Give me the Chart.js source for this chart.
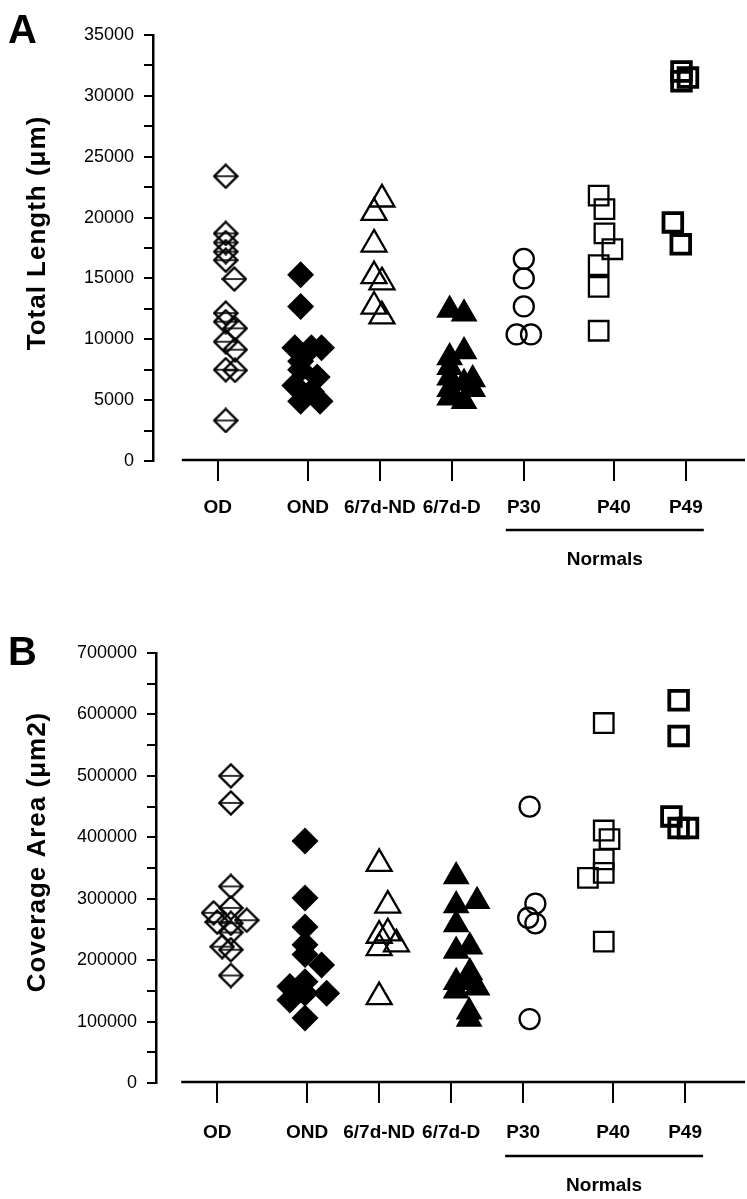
<!DOCTYPE html>
<html>
<head>
<meta charset="utf-8">
<title>Total length and coverage area</title>
<script src="https://cdn.jsdelivr.net/npm/chart.js"></script>
<style>
  html, body { margin: 0; padding: 0; background: #fff; }
  canvas { display: block; }
</style>
</head>
<body>
<canvas id="chartA" width="747" height="600"></canvas>
<canvas id="chartB" width="747" height="599"></canvas>
<script>
const groupLabels = ["OD", "OND", "6/7d-ND", "6/7d-D", "P30", "P40", "P49"];
const groupPos = [1, 2.25, 3.25, 4.25, 5.25, 6.5, 7.5];

// A - total length (µm), with the sideways offsets of the points
const lenOD = [23400, 18700, 17950, 17200, 16500, 14950, 12150, 11450, 10900, 9800, 9150, 7500, 7450, 3330];
const lenODJit = [0.11, 0.11, 0.11, 0.11, 0.11, 0.23, 0.11, 0.11, 0.24, 0.11, 0.24, 0.11, 0.24, 0.11];
const lenOND = [15300, 12700, 9300, 9300, 9300, 8200, 7500, 6900, 6200, 5700, 4900, 4900];
const lenONDJit = [-0.1, -0.1, -0.18, 0.05, 0.19, -0.1, -0.1, 0.13, -0.18, 0.05, -0.1, 0.17];
const lenND = [21500, 20400, 17800, 15200, 14700, 12700, 11900];
const lenNDJit = [0.03, -0.08, -0.08, -0.08, 0.03, -0.08, 0.03];
const lenD = [12400, 12100, 9000, 8500, 7700, 6850, 6700, 6400, 5900, 5900, 5200, 4900];
const lenDJit = [-0.03, 0.17, 0.17, -0.03, -0.03, -0.03, 0.29, 0.17, -0.03, 0.29, -0.03, 0.17];
const lenP30 = [16600, 15000, 12700, 10400, 10400];
const lenP30Jit = [0, 0, 0, -0.1, 0.1];
const lenP40 = [21800, 20700, 18700, 17400, 16100, 14300, 10700];
const lenP40Jit = [-0.21, -0.13, -0.13, -0.02, -0.21, -0.21, -0.21];
const lenP49 = [32000, 31500, 31200, 19600, 17800];
const lenP49Jit = [-0.06, 0.03, -0.06, -0.18, -0.07];

// B - coverage area (µm2)
const areaOD = [500000, 456000, 320000, 285000, 277000, 265000, 262000, 260000, 245000, 222000, 217000, 175000];
const areaODJit = [0.19, 0.19, 0.19, 0.19, -0.05, 0.41, 0, 0.19, 0.19, 0.07, 0.19, 0.19];
const areaOND = [394000, 301000, 254000, 225000, 209000, 192000, 165000, 157000, 146000, 146000, 135000, 106000];
const areaONDJit = [-0.03, -0.03, -0.03, -0.03, -0.03, 0.2, -0.03, -0.24, 0.27, -0.03, -0.24, -0.03];
const areaND = [357000, 289000, 244000, 240000, 226000, 220000, 140000];
const areaNDJit = [0, 0.12, 0.12, 0, 0.24, 0, 0];
const areaD = [336000, 296000, 289000, 258000, 222000, 215000, 180000, 166000, 164000, 155000, 150000, 116000, 104000];
const areaDJit = [0.07, 0.36, 0.07, 0.07, 0.26, 0.07, 0.26, 0.26, 0.07, 0.36, 0.07, 0.25, 0.25];
const areaP30 = [450000, 292000, 269000, 260000, 104000];
const areaP30Jit = [0.09, 0.17, 0.07, 0.17, 0.09];
const areaP40 = [586000, 411000, 397000, 364000, 342000, 334000, 230000];
const areaP40Jit = [-0.13, -0.13, -0.05, -0.13, -0.13, -0.35, -0.13];
const areaP49 = [623000, 565000, 434000, 415000, 415000];
const areaP49Jit = [-0.09, -0.09, -0.19, -0.09, 0.04];

const FONT = "'Liberation Sans', Arial, Helvetica, sans-serif";

// open diamond with a bar through it (OD symbol)
function diamondBar() {
    const c = document.createElement("canvas");
    c.width = c.height = 26;
    const g = c.getContext("2d");
    const h = 13, r = 11.5;
    g.strokeStyle = "#000";
    g.lineWidth = 2.3;
    g.beginPath();
    g.moveTo(h, h - r);
    g.lineTo(h + r, h);
    g.lineTo(h, h + r);
    g.lineTo(h - r, h);
    g.closePath();
    g.stroke();
    g.lineWidth = 1.6;
    g.beginPath();
    g.moveTo(h - r + 1, h);
    g.lineTo(h + r - 1, h);
    g.stroke();
    return c;
}

const open = "rgba(0,0,0,0)";
const markers = [
    { pointStyle: diamondBar(), pointRadius: 12 },
    { pointStyle: "rectRot", pointRadius: 13.5, pointBackgroundColor: "#000", pointBorderWidth: 0 },
    { pointStyle: "triangle", pointRadius: 14.4, pointBackgroundColor: open, pointBorderColor: "#000", pointBorderWidth: 2.3 },
    { pointStyle: "triangle", pointRadius: 15.5, pointBackgroundColor: "#000", pointBorderWidth: 0 },
    { pointStyle: "circle", pointRadius: 10, pointBackgroundColor: open, pointBorderColor: "#000", pointBorderWidth: 2.3 },
    { pointStyle: "rect", pointRadius: 13.8, pointBackgroundColor: open, pointBorderColor: "#000", pointBorderWidth: 2.3 },
    { pointStyle: "rect", pointRadius: 13.2, pointBackgroundColor: open, pointBorderColor: "#000", pointBorderWidth: 3.8 }
];

// axis line, "Normals" bracket, panel letter and y title
const decor = {
    id: "decor",
    afterDraw(chart, args, o) {
        const { ctx, chartArea: a } = chart;
        const x = chart.scales.x;
        ctx.save();
        ctx.strokeStyle = "#000";
        ctx.fillStyle = "#000";
        ctx.lineWidth = 2.5;
        ctx.beginPath();
        ctx.moveTo(x.getPixelForValue(0.5), a.bottom - 1);
        ctx.lineTo(a.right - 2, a.bottom - 1);
        ctx.stroke();

        const yl = a.bottom + o.normalsGap;
        ctx.beginPath();
        ctx.moveTo(x.getPixelForValue(5), yl);
        ctx.lineTo(x.getPixelForValue(7.75), yl);
        ctx.stroke();
        ctx.font = "bold 19px " + FONT;
        ctx.textAlign = "center";
        ctx.textBaseline = "middle";
        ctx.fillText("Normals", x.getPixelForValue(6.375), yl + 30);

        ctx.font = "bold 40px " + FONT;
        ctx.textAlign = "left";
        ctx.textBaseline = "alphabetic";
        ctx.fillText(o.letter, 8, o.letterY);

        ctx.translate(38, o.titleY);
        ctx.rotate(-Math.PI / 2);
        ctx.font = "bold 26px " + FONT;
        ctx.letterSpacing = "1px";
        ctx.textAlign = "center";
        ctx.textBaseline = "middle";
        ctx.fillText(o.title, 0, 0);
        ctx.restore();
    }
};

function makePanel(id, p) {
    const canvas = document.getElementById(id);
    const datasets = p.values.map((vals, g) => Object.assign({
        label: groupLabels[g],
        data: vals.map((v, k) => ({ x: groupPos[g] + p.jitter[g][k], y: v }))
    }, markers[g]));

    return new Chart(canvas, {
        type: "scatter",
        data: { datasets: datasets },
        options: {
            responsive: false,
            animation: false,
            devicePixelRatio: 1,
            events: [],
            layout: { autoPadding: false, padding: { top: p.top, left: 0, right: 0, bottom: 0 } },
            plugins: {
                legend: { display: false },
                tooltip: { enabled: false },
                decor: p.decor
            },
            scales: {
                x: {
                    type: "linear",
                    min: p.xMin,
                    max: p.xMax,
                    afterFit: s => {
                        s.height = canvas.height - p.bottom;
                        s.paddingLeft = 0;
                        s.paddingRight = 0;
                    },
                    afterBuildTicks: s => { s.ticks = groupPos.map(v => ({ value: v })); },
                    border: { display: false },
                    grid: { drawOnChartArea: false, drawTicks: true, tickLength: 20, lineWidth: 2, color: "#000" },
                    ticks: {
                        autoSkip: false,
                        maxRotation: 0,
                        padding: p.labelPad,
                        color: "#000",
                        font: { family: FONT, size: 19, weight: "bold" },
                        callback: (v, i) => groupLabels[i]
                    }
                },
                y: {
                    min: 0,
                    max: p.yMax,
                    afterFit: s => { s.width = p.left; },
                    border: { display: true, color: "#000", width: 2.5 },
                    grid: { drawOnChartArea: false, drawTicks: true, tickLength: 9, lineWidth: 2, color: "#000" },
                    ticks: {
                        stepSize: p.yStep / 2,
                        padding: 10,
                        color: "#000",
                        font: { family: FONT, size: 18 },
                        callback: v => (v % p.yStep === 0 ? String(v) : "")
                    }
                }
            }
        },
        plugins: [decor]
    });
}

makePanel("chartA", {
    values: [lenOD, lenOND, lenND, lenD, lenP30, lenP40, lenP49],
    jitter: [lenODJit, lenONDJit, lenNDJit, lenDJit, lenP30Jit, lenP40Jit, lenP49Jit],
    yMax: 35000, yStep: 5000,
    top: 35, bottom: 461, left: 153,
    xMin: 0.1, xMax: 8.35,
    labelPad: 15,
    decor: { letter: "A", letterY: 43, titleY: 233, normalsGap: 69, title: "Total Length (μm)" }
});

makePanel("chartB", {
    values: [areaOD, areaOND, areaND, areaD, areaP30, areaP40, areaP49],
    jitter: [areaODJit, areaONDJit, areaNDJit, areaDJit, areaP30Jit, areaP40Jit, areaP49Jit],
    yMax: 700000, yStep: 100000,
    top: 53, bottom: 483, left: 156,
    xMin: 0.15, xMax: 8.36,
    labelPad: 18,
    decor: { letter: "B", letterY: 65, titleY: 252, normalsGap: 73, title: "Coverage Area (μm2)" }
});
</script>
</body>
</html>
